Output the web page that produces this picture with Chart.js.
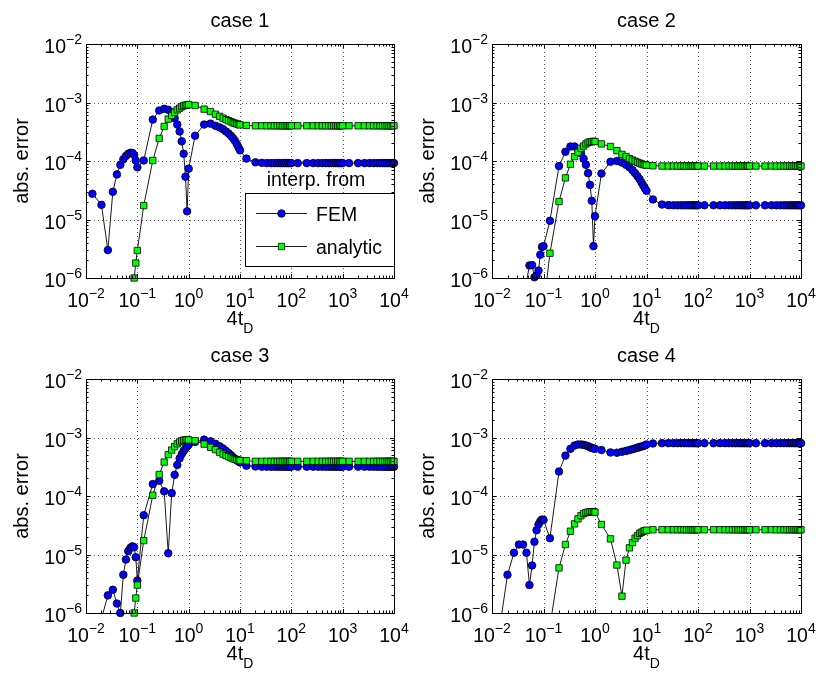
<!DOCTYPE html>
<html><head><meta charset="utf-8">
<script src="https://cdn.jsdelivr.net/npm/chart.js@4.4.1/dist/chart.umd.min.js"></script>
<style>
html,body{margin:0;padding:0;background:#fff;}
#wrap{position:relative;width:819px;height:675px;background:#fff;}
canvas{position:absolute;left:0;top:0;}
</style></head><body><div id="wrap">
<canvas id="c1" width="819" height="675"></canvas>
<canvas id="c2" width="819" height="675"></canvas>
<canvas id="c3" width="819" height="675"></canvas>
<canvas id="c4" width="819" height="675"></canvas>
</div>
<script>
// ---- data ----
const T = [
 0.01333,0.02,0.02667,0.03333,0.04,0.04667,0.05333,0.06,0.06667,0.07333,0.08,0.08667,0.09333,0.1,
 0.1333,0.2,0.2667,0.3333,0.4,0.4667,0.5333,0.6,0.6667,0.7333,0.8,0.8667,0.9333,1,
 1.333,2,2.667,3.333,4,4.667,5.333,6,6.667,7.333,8,8.667,9.333,10,
 13.33,20,26.67,33.33,40,46.67,53.33,60,66.67,73.33,80,86.67,93.33,100,
 133.3,200,266.7,333.3,400,466.7,533.3,600,666.7,733.3,800,866.7,933.3,1000,
 1333,2000,2667,3333,4000,4667,5333,6000,6667,7333,8000,8667,9333,10000];

const fem1 = [
 2.75e-5,1.78e-5,3.0e-6,2.97e-5,5.9e-5,8.6e-5,1.07e-4,1.22e-4,1.33e-4,1.38e-4,1.37e-4,1.27e-4,1.02e-4,7.8e-5,
 1.02e-4,5.1e-4,7.3e-4,7.8e-4,7.5e-4,6.8e-4,5.4e-4,4.2e-4,3.2e-4,2.17e-4,1.33e-4,5.4e-5,1.38e-5,7.4e-5,
 2.7e-4,4.2e-4,4.35e-4,4.0e-4,3.75e-4,3.5e-4,3.2e-4,2.95e-4,2.7e-4,2.45e-4,2.2e-4,1.95e-4,1.72e-4,1.52e-4,
 1.1e-4,9.5e-5,9.3e-5,9.2e-5,9.2e-5,9.2e-5,9.2e-5,9.2e-5,9.2e-5,9.2e-5,9.2e-5,9.2e-5,9.2e-5,9.2e-5,
 9.2e-5,9.2e-5,9.2e-5,9.2e-5,9.2e-5,9.2e-5,9.2e-5,9.2e-5,9.2e-5,9.2e-5,9.2e-5,9.2e-5,9.2e-5,9.2e-5,
 9.2e-5,9.2e-5,9.2e-5,9.2e-5,9.2e-5,9.2e-5,9.2e-5,9.2e-5,9.2e-5,9.2e-5,9.2e-5,9.2e-5,9.2e-5,9.2e-5];
const ana1 = [
 null,null,null,null,null,null,null,null,null,null,null,1.0e-6,1.8e-6,2.95e-6,
 1.73e-5,1.02e-4,2.43e-4,3.9e-4,5.2e-4,6.0e-4,6.8e-4,7.5e-4,8.0e-4,8.5e-4,8.8e-4,9.0e-4,9.1e-4,9.2e-4,
 8.9e-4,7.7e-4,7.0e-4,6.3e-4,5.8e-4,5.4e-4,5.1e-4,4.9e-4,4.7e-4,4.5e-4,4.4e-4,4.3e-4,4.2e-4,4.15e-4,
 4.05e-4,4.0e-4,4.0e-4,4.0e-4,4.0e-4,4.0e-4,4.0e-4,4.0e-4,4.0e-4,4.0e-4,4.0e-4,4.0e-4,4.0e-4,4.0e-4,
 4.0e-4,4.0e-4,4.0e-4,4.0e-4,4.0e-4,4.0e-4,4.0e-4,4.0e-4,4.0e-4,4.0e-4,4.0e-4,4.0e-4,4.0e-4,4.0e-4,
 4.0e-4,4.0e-4,4.0e-4,4.0e-4,4.0e-4,4.0e-4,4.0e-4,4.0e-4,4.0e-4,4.0e-4,4.0e-4,4.0e-4,4.0e-4,4.0e-4];

const fem2 = [
 null,null,null,null,null,8.5e-7,1.64e-6,1.66e-6,1.03e-6,1.1e-6,1.34e-6,2.5e-6,3.4e-6,3.5e-6,
 9.5e-6,8.2e-5,1.44e-4,1.77e-4,1.77e-4,1.6e-4,1.36e-4,1.09e-4,8.6e-5,6.2e-5,3.9e-5,2.09e-5,3.5e-6,1.14e-5,
 6.1e-5,9.7e-5,1.0e-4,9.4e-5,8.6e-5,7.8e-5,7.0e-5,6.2e-5,5.5e-5,4.9e-5,4.3e-5,3.8e-5,3.4e-5,3.1e-5,
 2.2e-5,1.8e-5,1.76e-5,1.75e-5,1.75e-5,1.75e-5,1.75e-5,1.75e-5,1.75e-5,1.75e-5,1.75e-5,1.75e-5,1.75e-5,1.75e-5,
 1.75e-5,1.75e-5,1.75e-5,1.75e-5,1.75e-5,1.75e-5,1.75e-5,1.75e-5,1.75e-5,1.75e-5,1.75e-5,1.75e-5,1.75e-5,1.75e-5,
 1.75e-5,1.75e-5,1.75e-5,1.75e-5,1.75e-5,1.75e-5,1.75e-5,1.75e-5,1.75e-5,1.75e-5,1.75e-5,1.75e-5,1.75e-5,1.75e-5];
const ana2 = [
 null,null,null,null,null,null,null,null,null,null,null,null,null,3e-7,
 2.65e-6,2.03e-5,5.15e-5,8.8e-5,1.19e-4,1.41e-4,1.65e-4,1.8e-4,1.96e-4,2.07e-4,2.12e-4,2.15e-4,2.17e-4,2.15e-4,
 1.96e-4,1.77e-4,1.5e-4,1.3e-4,1.19e-4,1.1e-4,1.04e-4,9.9e-5,9.5e-5,9.2e-5,8.9e-5,8.7e-5,8.6e-5,8.5e-5,
 8.3e-5,8.2e-5,8.2e-5,8.2e-5,8.2e-5,8.2e-5,8.2e-5,8.2e-5,8.2e-5,8.2e-5,8.2e-5,8.2e-5,8.2e-5,8.2e-5,
 8.2e-5,8.2e-5,8.2e-5,8.2e-5,8.2e-5,8.2e-5,8.2e-5,8.2e-5,8.2e-5,8.2e-5,8.2e-5,8.2e-5,8.2e-5,8.2e-5,
 8.2e-5,8.2e-5,8.2e-5,8.2e-5,8.2e-5,8.2e-5,8.2e-5,8.2e-5,8.2e-5,8.2e-5,8.2e-5,8.2e-5,8.2e-5,8.2e-5];

const fem3 = [
 null,8e-7,2.0e-6,2.5e-6,1.45e-6,1.0e-6,4.5e-6,8.2e-6,1.14e-5,1.3e-5,1.38e-5,1.33e-5,9.0e-6,3.6e-6,
 4.7e-5,1.6e-4,1.82e-4,1.2e-4,1.05e-5,1.12e-4,2.3e-4,3.4e-4,4.4e-4,5.2e-4,5.9e-4,6.5e-4,7.0e-4,7.5e-4,
 8.4e-4,9.2e-4,8.6e-4,7.8e-4,7.1e-4,6.5e-4,5.9e-4,5.4e-4,5.0e-4,4.6e-4,4.3e-4,4.1e-4,3.9e-4,3.75e-4,
 3.3e-4,3.2e-4,3.17e-4,3.17e-4,3.17e-4,3.17e-4,3.17e-4,3.17e-4,3.17e-4,3.17e-4,3.17e-4,3.17e-4,3.17e-4,3.17e-4,
 3.17e-4,3.17e-4,3.17e-4,3.17e-4,3.17e-4,3.17e-4,3.17e-4,3.17e-4,3.17e-4,3.17e-4,3.17e-4,3.17e-4,3.17e-4,3.17e-4,
 3.17e-4,3.17e-4,3.17e-4,3.17e-4,3.17e-4,3.17e-4,3.17e-4,3.17e-4,3.17e-4,3.17e-4,3.17e-4,3.17e-4,3.17e-4,3.17e-4];
const ana3 = [
 null,null,null,null,null,null,null,null,null,null,null,1.0e-6,1.8e-6,3.0e-6,
 1.73e-5,1.03e-4,2.33e-4,3.8e-4,5.1e-4,6.1e-4,7.0e-4,7.8e-4,8.4e-4,8.8e-4,9.0e-4,9.1e-4,9.2e-4,9.1e-4,
 8.8e-4,7.7e-4,6.8e-4,6.2e-4,5.6e-4,5.2e-4,4.9e-4,4.7e-4,4.5e-4,4.35e-4,4.25e-4,4.15e-4,4.1e-4,4.05e-4,
 4.0e-4,3.92e-4,3.92e-4,3.92e-4,3.92e-4,3.92e-4,3.92e-4,3.92e-4,3.92e-4,3.92e-4,3.92e-4,3.92e-4,3.92e-4,3.92e-4,
 3.92e-4,3.92e-4,3.92e-4,3.92e-4,3.92e-4,3.92e-4,3.92e-4,3.92e-4,3.92e-4,3.92e-4,3.92e-4,3.92e-4,3.92e-4,3.92e-4,
 3.92e-4,3.92e-4,3.92e-4,3.92e-4,3.92e-4,3.92e-4,3.92e-4,3.92e-4,3.92e-4,3.92e-4,3.92e-4,3.92e-4,3.92e-4,3.92e-4];

const fem4 = [
 4e-7,4.5e-6,1.07e-5,1.48e-5,1.48e-5,1.07e-5,3.0e-6,6.5e-6,1.65e-5,2.6e-5,3.26e-5,3.7e-5,3.95e-5,3.9e-5,
 1.9e-5,2.62e-4,4.9e-4,6.4e-4,7.3e-4,7.6e-4,7.6e-4,7.5e-4,7.3e-4,7.1e-4,6.8e-4,6.65e-4,6.5e-4,6.4e-4,
 6.1e-4,5.55e-4,5.5e-4,5.7e-4,5.9e-4,6.1e-4,6.3e-4,6.5e-4,6.7e-4,6.85e-4,7.0e-4,7.15e-4,7.3e-4,7.6e-4,
 7.9e-4,8.0e-4,8.0e-4,8.0e-4,8.0e-4,8.0e-4,8.0e-4,8.0e-4,8.0e-4,8.0e-4,8.0e-4,8.0e-4,8.0e-4,8.0e-4,
 8.0e-4,8.0e-4,8.0e-4,8.0e-4,8.0e-4,8.0e-4,8.0e-4,8.0e-4,8.0e-4,8.0e-4,8.0e-4,8.0e-4,8.0e-4,8.0e-4,
 8.0e-4,8.0e-4,8.0e-4,8.0e-4,8.0e-4,8.0e-4,8.0e-4,8.0e-4,8.0e-4,8.0e-4,8.0e-4,8.0e-4,8.0e-4,8.0e-4];
const ana4 = [
 null,null,null,null,null,null,null,null,null,null,null,null,null,null,
 6e-7,5.9e-6,1.48e-5,2.5e-5,3.34e-5,4.07e-5,4.6e-5,5.0e-5,5.2e-5,5.3e-5,5.4e-5,5.4e-5,5.4e-5,5.3e-5,
 3.26e-5,1.85e-5,6.6e-6,1.94e-6,8.0e-6,1.3e-5,1.6e-5,1.9e-5,2.1e-5,2.3e-5,2.4e-5,2.5e-5,2.56e-5,2.6e-5,
 2.65e-5,2.65e-5,2.65e-5,2.65e-5,2.65e-5,2.65e-5,2.65e-5,2.65e-5,2.65e-5,2.65e-5,2.65e-5,2.65e-5,2.65e-5,2.65e-5,
 2.65e-5,2.65e-5,2.65e-5,2.65e-5,2.65e-5,2.65e-5,2.65e-5,2.65e-5,2.65e-5,2.65e-5,2.65e-5,2.65e-5,2.65e-5,2.65e-5,
 2.65e-5,2.65e-5,2.65e-5,2.65e-5,2.65e-5,2.65e-5,2.65e-5,2.65e-5,2.65e-5,2.65e-5,2.65e-5,2.65e-5,2.65e-5,2.65e-5];

const titles = ['case 1','case 2','case 3','case 4'];
const seriesNames = ['FEM','analytic'];
const legendTitle = 'interp. from';
const xLabel = '4t';
const xLabelSub = 'D';
const yLabel = 'abs. error';
const xTickExps = [-2,-1,0,1,2,3,4];
const yTickExps = [-6,-5,-4,-3,-2];

// ---- layout ----
const W = 819, H = 675;
const AREAS = [
  {l:86, t:44, r:394, b:278},
  {l:492, t:44, r:801, b:278},
  {l:86, t:379, r:394, b:613},
  {l:492, t:379, r:801, b:613}
];
const FONT = '"Liberation Sans", Arial, Helvetica, sans-serif';
const X_MIN = 1e-2, X_MAX = 1e4, Y_MIN = 1e-6, Y_MAX = 1e-2;
const BLUE = '#0000ff', GREEN = '#00ff00';
const CIRCLE_R = 3.8, RECT_R = 4.5;

function pts(arr){ return T.map((x,i)=>({x:x, y:arr[i]})); }
function visPts(arr){ return T.map((x,i)=>({x:x, y:(arr[i]!==null && arr[i]>=Y_MIN*0.999) ? arr[i] : null})); }

function drawPow(ctx, exp, x, baseY, align){
  const base = '10', sup = (exp<0 ? '\u2212' : '') + Math.abs(exp);
  ctx.font = '19.5px ' + FONT;
  const wb = ctx.measureText(base).width;
  ctx.font = '14px ' + FONT;
  const ws = ctx.measureText(sup).width;
  const tot = wb + ws;
  let x0 = align === 'center' ? x - tot/2 : x - tot;
  ctx.textAlign = 'left'; ctx.textBaseline = 'alphabetic';
  ctx.font = '19.5px ' + FONT; ctx.fillText(base, x0, baseY);
  ctx.font = '14px ' + FONT; ctx.fillText(sup, x0 + wb, baseY - 9);
}

function drawCircle(ctx, x, y, r){
  ctx.beginPath(); ctx.arc(x, y, r, 0, Math.PI*2);
  ctx.fillStyle = BLUE; ctx.fill();
  ctx.lineWidth = 0.8; ctx.strokeStyle = '#000'; ctx.stroke();
}
function drawSquare(ctx, x, y, s){
  ctx.beginPath(); ctx.rect(x - s/2, y - s/2, s, s);
  ctx.fillStyle = GREEN; ctx.fill();
  ctx.lineWidth = 0.8; ctx.strokeStyle = '#000'; ctx.stroke();
}

const matlabAxes = {
  id: 'matlabAxes',
  beforeDatasetsDraw(chart){
    const {ctx, chartArea:a, scales:{x, y}} = chart;
    ctx.save();
    ctx.strokeStyle = 'rgba(0,0,0,0.65)'; ctx.lineWidth = 1; ctx.setLineDash([1,3]);
    xTickExps.forEach(e => {
      const px = Math.round(x.getPixelForValue(Math.pow(10,e))) + 0.5;
      if (px > a.left + 2 && px < a.right - 2){ ctx.beginPath(); ctx.moveTo(px, a.top); ctx.lineTo(px, a.bottom); ctx.stroke(); }
    });
    yTickExps.forEach(e => {
      const py = Math.round(y.getPixelForValue(Math.pow(10,e))) + 0.5;
      if (py > a.top + 2 && py < a.bottom - 2){ ctx.beginPath(); ctx.moveTo(a.left, py); ctx.lineTo(a.right, py); ctx.stroke(); }
    });
    ctx.restore();
  },
  afterDraw(chart, args, opts){
    const {ctx, chartArea:a, scales:{x, y}} = chart;
    ctx.save();
    ctx.setLineDash([]);
    ctx.strokeStyle = '#000'; ctx.lineWidth = 1;
    ctx.beginPath();
    for (let e = xTickExps[0]; e <= xTickExps[xTickExps.length-1]; e++){
      for (let m = 1; m <= 9; m++){
        if (m > 1 && e === xTickExps[xTickExps.length-1]) break;
        const v = m * Math.pow(10, e);
        const px = Math.round(x.getPixelForValue(v)) + 0.5;
        const len = m === 1 ? 4 : 2.5;
        ctx.moveTo(px, a.bottom); ctx.lineTo(px, a.bottom - len);
        ctx.moveTo(px, a.top); ctx.lineTo(px, a.top + len);
      }
    }
    for (let e = yTickExps[0]; e <= yTickExps[yTickExps.length-1]; e++){
      for (let m = 1; m <= 9; m++){
        if (m > 1 && e === yTickExps[yTickExps.length-1]) break;
        const v = m * Math.pow(10, e);
        const py = Math.round(y.getPixelForValue(v)) + 0.5;
        const len = m === 1 ? 4 : 2.5;
        ctx.moveTo(a.left, py); ctx.lineTo(a.left + len, py);
        ctx.moveTo(a.right, py); ctx.lineTo(a.right - len, py);
      }
    }
    ctx.stroke();
    ctx.strokeRect(Math.round(a.left)+0.5, Math.round(a.top)+0.5, Math.round(a.right-a.left), Math.round(a.bottom-a.top));
    ctx.fillStyle = '#000';
    xTickExps.forEach(e => drawPow(ctx, e, x.getPixelForValue(Math.pow(10,e)), a.bottom + 29, 'center'));
    yTickExps.forEach(e => drawPow(ctx, e, a.left - 4, y.getPixelForValue(Math.pow(10,e)) + 9, 'right'));
    const cx = (a.left + a.right) / 2;
    ctx.font = '20px ' + FONT; ctx.textAlign = 'center'; ctx.textBaseline = 'alphabetic';
    ctx.fillText(opts.title, cx, a.top - 17);
    ctx.font = '20px ' + FONT; const w1 = ctx.measureText(xLabel).width;
    ctx.font = '14px ' + FONT; const w2 = ctx.measureText(xLabelSub).width;
    const xl0 = cx - (w1 + w2) / 2;
    ctx.textAlign = 'left';
    ctx.font = '20px ' + FONT; ctx.fillText(xLabel, xl0, a.bottom + 47);
    ctx.font = '14px ' + FONT; ctx.fillText(xLabelSub, xl0 + w1, a.bottom + 55);
    ctx.save();
    ctx.translate(a.left - 58, (a.top + a.bottom) / 2);
    ctx.rotate(-Math.PI/2);
    ctx.font = '20px ' + FONT; ctx.textAlign = 'center';
    ctx.fillText(yLabel, 0, 0);
    ctx.restore();
    if (opts.legend){
      const bl = a.right - 149, bt = a.top + 149, bw = 149, bh = 73;
      ctx.fillStyle = '#fff'; ctx.fillRect(bl, bt, bw, bh);
      ctx.strokeStyle = '#000'; ctx.lineWidth = 1;
      ctx.strokeRect(Math.round(bl)+0.5, Math.round(bt)+0.5, bw, bh);
      ctx.fillStyle = '#000'; ctx.font = '19.5px ' + FONT; ctx.textAlign = 'center';
      ctx.fillText(legendTitle, bl + 71, bt - 7);
      const rows = [bt + 20.5, bt + 53.5];
      rows.forEach((ry, i) => {
        ctx.strokeStyle = '#000'; ctx.lineWidth = 0.9;
        ctx.beginPath(); ctx.moveTo(bl + 11, ry); ctx.lineTo(bl + 62, ry); ctx.stroke();
        if (i === 0) drawCircle(ctx, bl + 36.5, ry, CIRCLE_R); else drawSquare(ctx, bl + 36.5, ry, RECT_R * Math.SQRT2);
        ctx.fillStyle = '#000'; ctx.font = '19.5px ' + FONT; ctx.textAlign = 'left';
        ctx.fillText(seriesNames[i], bl + 71, ry + 7);
      });
    }
    ctx.restore();
  }
};

const femSets = [fem1, fem2, fem3, fem4];
const anaSets = [ana1, ana2, ana3, ana4];

AREAS.forEach((a, k) => {
  new Chart(document.getElementById('c' + (k+1)), {
    type: 'line',
    data: {
      datasets: [
        { label: seriesNames[1] + ' markers', data: visPts(anaSets[k]), showLine: false, order: 0, clip: false,
          pointStyle: 'rect', pointRadius: RECT_R, pointBackgroundColor: GREEN, pointBorderColor: '#000', pointBorderWidth: 0.8 },
        { label: seriesNames[1], data: pts(anaSets[k]), order: 1, clip: 0, borderColor: '#000', borderWidth: 0.9,
          pointRadius: 0, tension: 0, fill: false, spanGaps: false },
        { label: seriesNames[0] + ' markers', data: visPts(femSets[k]), showLine: false, order: 2, clip: false,
          pointStyle: 'circle', pointRadius: CIRCLE_R, pointBackgroundColor: BLUE, pointBorderColor: '#000', pointBorderWidth: 0.8 },
        { label: seriesNames[0], data: pts(femSets[k]), order: 3, clip: 0, borderColor: '#000', borderWidth: 0.9,
          pointRadius: 0, tension: 0, fill: false, spanGaps: false }
      ]
    },
    options: {
      responsive: false, animation: false, events: [], devicePixelRatio: 1,
      layout: { padding: { left: a.l, top: a.t, right: W - a.r, bottom: H - a.b } },
      scales: {
        x: { type: 'logarithmic', min: X_MIN, max: X_MAX, display: false },
        y: { type: 'logarithmic', min: Y_MIN, max: Y_MAX, display: false }
      },
      plugins: {
        legend: { display: false }, tooltip: { enabled: false },
        matlabAxes: { title: titles[k], legend: k === 0 }
      }
    },
    plugins: [matlabAxes]
  });
});
</script>
</body></html>
